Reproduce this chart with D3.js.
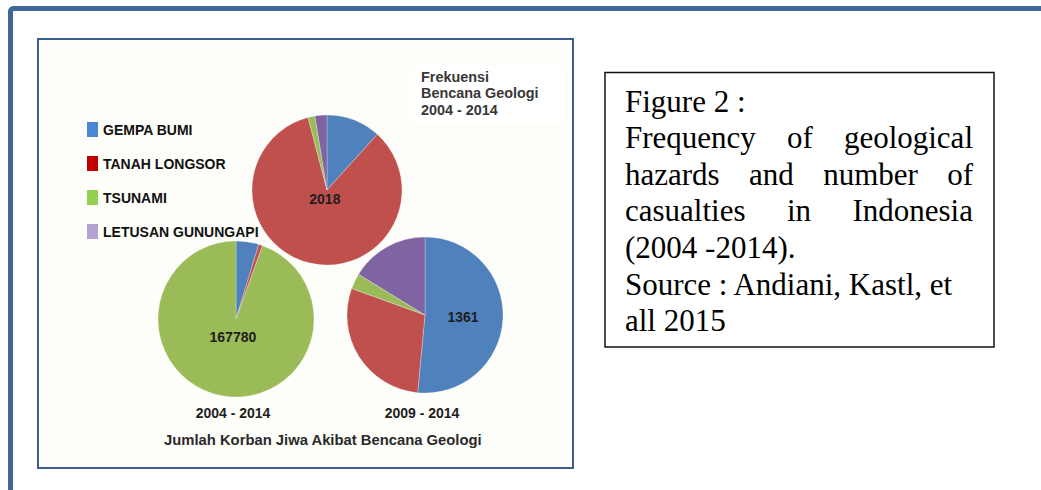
<!DOCTYPE html>
<html>
<head>
<meta charset="utf-8">
<script src="https://cdn.jsdelivr.net/npm/d3@7"></script>
<style>
  body { margin: 0; background: #fff; }
  svg { display: block; }
  text { font-family: "Liberation Sans", Arial, sans-serif; }
  text.serif { font-family: "Liberation Serif", "Times New Roman", serif; }
</style>
</head>
<body>
<div id="chart"></div>
<script>
// data
const categories = ["GEMPA BUMI", "TANAH LONGSOR", "TSUNAMI", "LETUSAN GUNUNGAPI"];
const freq2004_2014 = [236, 1700, 30, 52];          // frekuensi bencana, total 2018
const korban2004_2014 = [7900, 1400, 158480, 0];    // korban jiwa, total 167780
const korban2009_2014 = [701, 395, 44, 221];        // korban jiwa, total 1361
const pieCaptions = ["2004 - 2014", "2009 - 2014"];
const titleLines = ["Frekuensi", "Bencana Geologi", "2004 - 2014"];
const bottomTitle = "Jumlah Korban Jiwa Akibat Bencana Geologi";
const noteLines = [
    "Figure 2 :",
    "Frequency of geological",
    "hazards and number of",
    "casualties in Indonesia",
    "(2004 -2014).",
    "Source : Andiani, Kastl, et",
    "all 2015"
];
const noteJustified = [false, true, true, true, false, false, false];

const pieColors = ["#4f81bd", "#c0504d", "#9bbb59", "#8064a2"];
const legendColors = ["#4a86d2", "#c00000", "#92d050", "#b3a2d4"];

const width = 1041;
const height = 490;

const svg = d3.select('#chart')
    .append('svg')
    .attr('width', width)
    .attr('height', height);

// outer page frame (runs past right and bottom edge)
svg.append('rect')
    .attr('x', 10.5).attr('y', 8.5)
    .attr('width', 1200).attr('height', 700)
    .attr('rx', 3)
    .attr('fill', 'none')
    .attr('stroke', '#41679a')
    .attr('stroke-width', 5);

// inner chart frame
svg.append('rect')
    .attr('x', 38).attr('y', 39)
    .attr('width', 535).attr('height', 429)
    .attr('fill', '#fdfdf9')
    .attr('stroke', '#3b5e8f')
    .attr('stroke-width', 2);

// light box behind the frequency title
svg.append('rect')
    .attr('x', 410).attr('y', 66)
    .attr('width', 153).attr('height', 57)
    .attr('fill', '#ffffff');

const colorScale = d3.scaleOrdinal().domain(categories).range(pieColors);
const legendScale = d3.scaleOrdinal().domain(categories).range(legendColors);

// legend
const legendY = d3.scalePoint().domain(categories).range([135, 237]);
const legend = svg.append('g').attr('class', 'legend');
legend.selectAll('rect')
    .data(categories)
    .join('rect')
    .attr('x', 87)
    .attr('y', d => legendY(d) - 13)
    .attr('width', 11)
    .attr('height', 15)
    .attr('fill', d => legendScale(d));
legend.selectAll('text')
    .data(categories)
    .join('text')
    .attr('x', 103)
    .attr('y', d => legendY(d))
    .attr('font-size', 14)
    .attr('font-weight', 'bold')
    .attr('fill', '#111')
    .text(d => d);

// pies
const pies = [
    { values: freq2004_2014, cx: 327, cy: 190, r: 75, labelR: 9, caption: null },
    { values: korban2004_2014, cx: 236, cy: 319, r: 78, labelR: 18, caption: pieCaptions[0] },
    { values: korban2009_2014, cx: 425, cy: 315, r: 78, labelR: 38, caption: pieCaptions[1] }
];

const pie = d3.pie().sort(null).value(d => d.value);

pies.forEach(p => {
    const rows = categories.map((c, i) => ({ key: c, value: p.values[i] }));
    const arcs = pie(rows);
    const arc = d3.arc().innerRadius(0).outerRadius(p.r);
    const g = svg.append('g')
        .attr('transform', 'translate(' + p.cx + ',' + p.cy + ')');

    g.selectAll('path')
        .data(arcs.filter(d => d.value > 0))
        .join('path')
        .attr('d', arc)
        .attr('fill', d => colorScale(d.data.key))
        .attr('stroke', 'rgba(255,255,255,0.45)')
        .attr('stroke-width', 0.6);

    // total written inside the biggest slice
    const biggest = arcs.reduce((a, b) => (b.value > a.value ? b : a));
    const labelArc = d3.arc().innerRadius(p.labelR).outerRadius(p.labelR);
    const pos = labelArc.centroid(biggest);
    g.append('text')
        .attr('x', pos[0])
        .attr('y', pos[1])
        .attr('dy', '0.36em')
        .attr('text-anchor', 'middle')
        .attr('font-size', 14)
        .attr('font-weight', 'bold')
        .attr('fill', '#1e1e1e')
        .text(d3.sum(p.values));

    if (p.caption) {
        svg.append('text')
            .attr('x', p.cx - 3)
            .attr('y', 418)
            .attr('text-anchor', 'middle')
            .attr('font-size', 14)
            .attr('font-weight', 'bold')
            .attr('fill', '#1e1e1e')
            .text(p.caption);
    }
});

// frequency title
svg.append('g')
    .selectAll('text')
    .data(titleLines)
    .join('text')
    .attr('x', 421)
    .attr('y', (d, i) => 82 + i * 16.4)
    .attr('font-size', 14.4)
    .attr('font-weight', 'bold')
    .attr('fill', '#383838')
    .text(d => d);

svg.append('text')
    .attr('x', 164)
    .attr('y', 445)
    .attr('font-size', 14.8)
    .attr('font-weight', 'bold')
    .attr('fill', '#2a2a2a')
    .text(bottomTitle);

// caption box on the right
svg.append('rect')
    .attr('x', 605).attr('y', 72.5)
    .attr('width', 389).attr('height', 274.5)
    .attr('fill', '#fff')
    .attr('stroke', '#111')
    .attr('stroke-width', 1.5);

const noteLeft = 625;
const noteRight = 973;
const note = svg.append('g').attr('class', 'note');

noteLines.forEach((line, i) => {
    const y = 111.5 + i * 36.6;
    if (!noteJustified[i]) {
        note.append('text')
            .attr('class', 'serif')
            .attr('x', noteLeft)
            .attr('y', y)
            .attr('font-size', 31)
            .attr('fill', '#000')
            .text(line);
        return;
    }
    // justified line: spread the words to both edges
    const words = line.split(' ');
    const nodes = words.map(w => note.append('text')
        .attr('class', 'serif')
        .attr('y', y)
        .attr('font-size', 31)
        .attr('fill', '#000')
        .text(w));
    const widths = nodes.map(n => n.node().getComputedTextLength());
    const gap = (noteRight - noteLeft - d3.sum(widths)) / (words.length - 1);
    let x = noteLeft;
    nodes.forEach((n, j) => {
        n.attr('x', x);
        x += widths[j] + gap;
    });
});
</script>
</body>
</html>
